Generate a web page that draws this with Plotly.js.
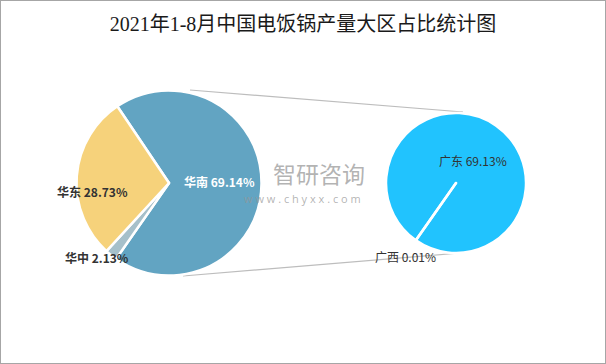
<!DOCTYPE html>
<html>
<head>
<meta charset="utf-8">
<script src="https://cdn.plot.ly/plotly-3.0.1.min.js"></script>
<style>
html,body{margin:0;padding:0;background:#fff;}
#chart{width:606px;height:364px;box-sizing:border-box;border:1px solid #a6a6a6;}
</style>
</head>
<body>
<div id="chart"></div>
<script>
// ---- data ----
var title = "2021年1-8月中国电饭锅产量大区占比统计图";
var mainLabels = ["华南", "华中", "华东"];
var mainValues = [69.14, 2.13, 28.73];
var subLabels = ["广东", "广西"];
var subValues = [69.13, 0.01];

// ---- layout helpers (pixel -> paper) ----
var W = 604, H = 362;
function px(x){ return (x - 1) / W; }
function py(y){ return 1 - (y - 1) / H; }

var mainColors = ["#62A4C2", "#A6C0CA", "#F6D27B"];
var subColors = ["#21C3FE", "#21C3FE"];

var traces = [
  {
    type: "pie", values: mainValues, labels: mainLabels, sort: false,
    direction: "clockwise", rotation: -34, textinfo: "none", hoverinfo: "label+percent",
    marker: {colors: mainColors, line: {color: "#ffffff", width: 2.5}},
    domain: {x: [px(169 - 92.5), px(169 + 92.5)], y: [py(183 + 92.5), py(183 - 92.5)]},
    showlegend: false
  },
  {
    type: "pie", values: subValues, labels: subLabels, sort: false,
    direction: "clockwise", rotation: -145, textinfo: "none", hoverinfo: "label+value",
    marker: {colors: subColors, line: {color: "#ffffff", width: 2.5}},
    domain: {x: [px(456 - 70), px(456 + 70)], y: [py(183 + 70), py(183 - 70)]},
    showlegend: false
  }
];

function pct(v){ return v.toFixed(2) + "%"; }
var boldFont = {family: "Noto Sans CJK SC, Open Sans, sans-serif", size: 12};
var ann = [
  {x: px(219), y: py(181), text: "<b>" + mainLabels[0] + " " + pct(mainValues[0]) + "</b>", font: Object.assign({}, boldFont, {color: "#ffffff"})},
  {x: px(92), y: py(191), text: "<b>" + mainLabels[2] + " " + pct(mainValues[2]) + "</b>", font: Object.assign({}, boldFont, {color: "#333333"})},
  {x: px(97), y: py(257), text: "<b>" + mainLabels[1] + " " + pct(mainValues[1]) + "</b>", font: Object.assign({}, boldFont, {color: "#333333"})},
  {x: px(473), y: py(160), text: subLabels[0] + " " + pct(subValues[0]), font: {family: "Noto Sans CJK SC, Open Sans, sans-serif", size: 12, color: "#333333"}},
  {x: px(405), y: py(256), text: subLabels[1] + " " + pct(subValues[1]), font: {family: "Noto Sans CJK SC, Open Sans, sans-serif", size: 12, color: "#333333"}},
  // watermark
  {x: px(319), y: py(173), text: "智研咨询", font: {family: "Noto Sans CJK SC, sans-serif", size: 23, color: "rgba(150,150,150,0.72)"}},
  {x: px(302), y: py(198), text: "w w w . c h y x x . c o m", font: {family: "Open Sans, sans-serif", size: 11, color: "rgba(150,150,150,0.72)"}}
].map(function(a){ return Object.assign({xref: "paper", yref: "paper", showarrow: false, xanchor: "center", yanchor: "middle"}, a); });

var lineStyle = {color: "#bdbdbd", width: 1.2};
var shapes = [
  {type: "line", xref: "paper", yref: "paper", x0: px(190), y0: py(90), x1: px(463), y1: py(112), line: lineStyle, layer: "below"},
  {type: "line", xref: "paper", yref: "paper", x0: px(183), y0: py(276), x1: px(460), y1: py(253), line: lineStyle, layer: "below"}
];

var layout = {
  width: W, height: H,
  margin: {l: 0, r: 0, t: 0, b: 0},
  paper_bgcolor: "#ffffff", plot_bgcolor: "#ffffff",
  title: {text: title, x: 0.5, xanchor: "center", y: py(24), yanchor: "middle", yref: "container",
          font: {family: "Liberation Serif, Noto Sans CJK SC, serif", size: 20, color: "#1a1a1a"}},
  annotations: ann,
  shapes: shapes,
  showlegend: false
};

Plotly.newPlot("chart", traces, layout, {displayModeBar: false, staticPlot: true});
</script>
</body>
</html>
